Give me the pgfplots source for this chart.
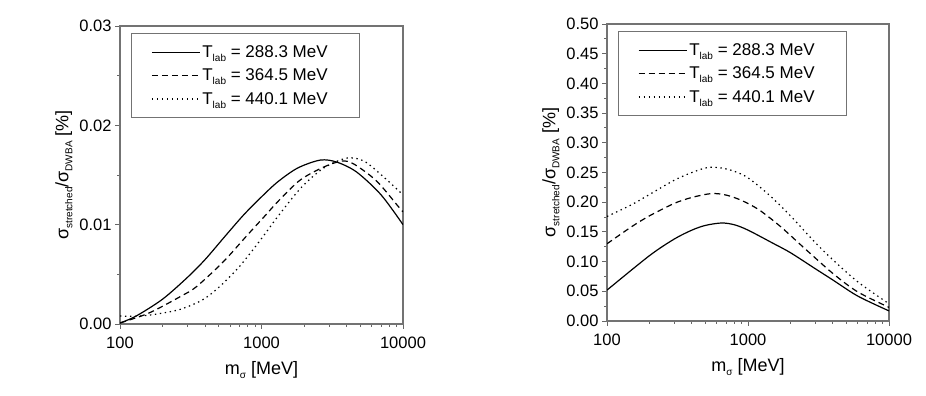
\documentclass[border=0pt]{standalone}
\usepackage{fontspec}
\setmainfont{Liberation Sans}
\usepackage{pgfplots}
\pgfplotsset{compat=1.18}

\newcommand{\lo}[1]{\raisebox{-4pt}{\fontsize{10}{10}\selectfont #1}}

% shared look of both panels
\pgfplotsset{
  scale only axis,
  xmin=100, xmax=10000,
  xtick={100,1000,10000}, xticklabels={100,1000,10000},
  scaled x ticks=false, scaled y ticks=false,
  tick align=outside, xtick pos=bottom, ytick pos=left,
  major tick length=5pt, minor tick length=3pt,
  axis line style={black!55, line width=1.2pt},
  every tick/.style={black!60, line width=0.9pt},
  /pgf/number format/assume math mode=true,
  yticklabel style={/pgf/number format/fixed, /pgf/number format/fixed zerofill,
    /pgf/number format/precision=2},
  tick label style={font=\fontsize{16.5}{19}\selectfont},
  xticklabel style={yshift=-4pt},
  label style={font=\fontsize{18}{21}\selectfont},
  xlabel style={yshift=-6pt},
  xlabel={m\lo{σ} [MeV]},
  ylabel={σ\lo{stretched}/σ\lo{DWBA} [\%]},
  legend style={at={(0.038,0.976)}, anchor=north west, draw=black!55,
    line width=0.8pt, inner xsep=20pt, inner ysep=10pt,
    font=\fontsize{17}{20}\selectfont, row sep=6pt},
  legend cell align=left,
  legend image code/.code={\draw[#1] (0pt,0pt) -- (48pt,0pt);},
}
\tikzset{
  crv/.style={black, line width=1.2pt, mark=none},
  dsh/.style={crv, dash pattern=on 6pt off 4pt},
  dtt/.style={crv, dash pattern=on 1.4pt off 3.6pt},
}

\begin{document}
\begin{tikzpicture}[x=1pt,y=1pt]
\path[use as bounding box] (0,0) rectangle (926,396);

\begin{semilogxaxis}[at={(120pt,72pt)}, anchor=south west,
  width=283pt, height=298pt,
  ymin=0, ymax=0.03, ytick={0,0.01,0.02,0.03}, minor y tick num=1]
\addplot[crv, smooth] coordinates {(100,0.0001) (130,0.0008) (200,0.0025)
  (300,0.0047) (400,0.0065) (550,0.0088) (750,0.0110) (1000,0.0128)
  (1300,0.0143) (1800,0.0157) (2600,0.0165) (3400,0.0163) (4700,0.0153)
  (7000,0.0130) (10000,0.0100)};
\addlegendentry{T\lo{lab} = 288.3 MeV\hspace*{10pt}}
\addplot[dsh, smooth] coordinates {(100,0.0001) (160,0.0011) (270,0.0028)
  (350,0.0038) (540,0.0063) (800,0.0090) (1060,0.0109) (1320,0.0124)
  (1880,0.0145) (2750,0.0158) (3700,0.0164) (4500,0.0161) (6500,0.0144)
  (9300,0.0118) (10000,0.0113)};
\addlegendentry{T\lo{lab} = 364.5 MeV\hspace*{10pt}}
\addplot[dtt, smooth] coordinates {(100,0.0008) (140,0.0008) (200,0.0011)
  (270,0.0015) (380,0.0024) (500,0.0037) (700,0.0058) (1000,0.0086)
  (1300,0.0108) (1900,0.0137) (2750,0.0157) (4000,0.0167) (5300,0.0164)
  (7300,0.0148) (10000,0.0130)};
\addlegendentry{T\lo{lab} = 440.1 MeV\hspace*{10pt}}
\end{semilogxaxis}

\begin{semilogxaxis}[at={(607pt,75pt)}, anchor=south west,
  width=282pt, height=297pt,
  ymin=0, ymax=0.5, ytick={0,0.05,...,0.5}, minor y tick num=1]
\addplot[crv, smooth] coordinates {(100,0.052) (200,0.110) (300,0.138)
  (400,0.153) (500,0.161) (650,0.165) (800,0.162) (1000,0.153)
  (1500,0.131) (2000,0.115) (3000,0.088) (4000,0.069) (6000,0.042)
  (10000,0.017)};
\addlegendentry{T\lo{lab} = 288.3 MeV\hspace*{10pt}}
\addplot[dsh, smooth] coordinates {(100,0.130) (150,0.159) (200,0.177)
  (300,0.198) (400,0.208) (550,0.2145) (700,0.212) (900,0.203)
  (1200,0.187) (1700,0.159) (2500,0.123) (4000,0.080) (6000,0.049)
  (10000,0.023)};
\addlegendentry{T\lo{lab} = 364.5 MeV\hspace*{10pt}}
\addplot[dtt, smooth] coordinates {(100,0.176) (150,0.196) (200,0.213)
  (300,0.237) (400,0.250) (520,0.2585) (650,0.2575) (800,0.252)
  (1000,0.241) (1400,0.213) (2000,0.177) (3000,0.132) (4000,0.103)
  (6000,0.066) (10000,0.029)};
\addlegendentry{T\lo{lab} = 440.1 MeV\hspace*{10pt}}
\end{semilogxaxis}
\end{tikzpicture}
\end{document}
